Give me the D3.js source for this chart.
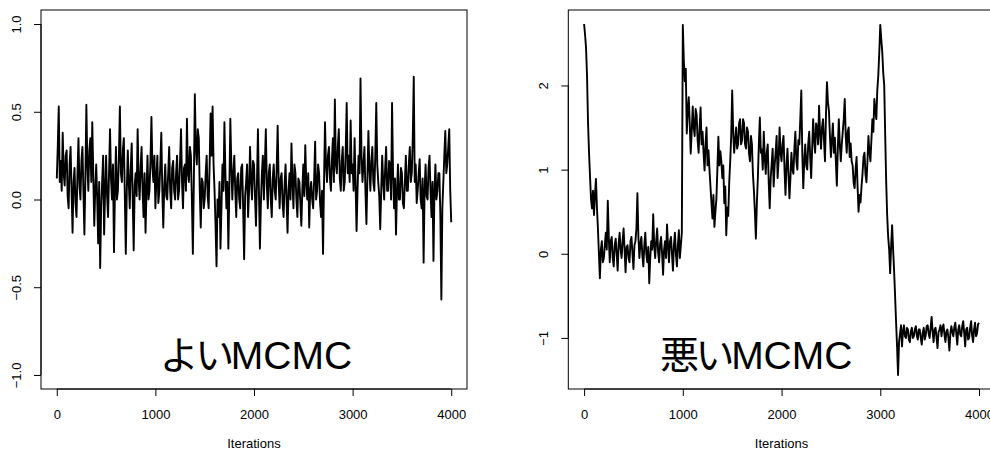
<!DOCTYPE html>
<html><head><meta charset="utf-8">
<script src="https://cdn.jsdelivr.net/npm/d3@7"></script>
<style>html,body{margin:0;padding:0;background:#fff}svg{display:block}</style>
</head><body>
<svg id="chart" width="990" height="452"></svg>
<script>
// Trace values sampled every 10 iterations (0, 10, ..., 4000)
const goodTrace = [
 0.12,0.30, 0.53,0.10, 0.22,0.05, 0.38,0.15, 0.08,0.25, 0.28,0.02, -0.05,0.20, 0.30,0.05, -0.19,0.10, 0.18,-0.02,
-0.10,0.15, 0.35,0.08, 0.00,0.22, 0.30,0.05, -0.20,0.12, 0.54,0.20, 0.05,0.28, 0.35,0.10, 0.44,0.15, -0.15,0.05,
 0.20,0.00, -0.25,0.10, -0.39,-0.05, 0.10,0.25, -0.20,0.05, 0.25,0.02, -0.10,0.15, 0.40,0.12, 0.00,0.20, -0.30,0.05,
 0.30,0.00, 0.05,0.25, 0.53,0.15, 0.10,0.28, 0.35,0.02, -0.31,0.05, 0.28,0.10, -0.05,0.18, 0.32,0.00, -0.29,0.08,
 0.15,0.02, 0.40,0.12, 0.00,0.18, 0.30,0.05, -0.10,0.15, -0.19,0.05, 0.25,0.00, 0.05,0.22, 0.47,0.18, 0.10,0.25,
-0.05,0.12, 0.25,-0.02, 0.05,0.20, 0.38,0.05, -0.16,0.08, 0.20,0.02, 0.00,0.15, 0.30,0.05, -0.05,0.18, 0.22,0.05,
 0.00,0.15, 0.25,0.00, 0.05,0.22, 0.40,0.10, -0.05,0.18, 0.20,0.05, 0.46,0.15, 0.10,0.30, 0.25,0.00, -0.31,0.10,
 0.60,0.30, 0.20,0.40, 0.35,0.05, -0.16,0.12, 0.10,-0.05, 0.00,0.15, 0.25,0.02, -0.05,0.20, 0.49,0.25, 0.53,0.20,
 0.05,-0.15, -0.38,0.00, -0.10,0.10, -0.28,-0.05, 0.20,0.05, 0.44,0.15, -0.05,0.10, -0.28,0.05, 0.46,0.20, 0.00,0.15,
 0.25,0.05, -0.10,0.12, 0.15,0.00, -0.05,0.18, 0.20,-0.05, -0.34,0.02, 0.10,0.20, -0.10,0.05, 0.30,0.10, 0.00,0.22,
 0.20,0.02, -0.15,0.10, 0.40,0.05, -0.28,-0.02, 0.15,0.25, 0.00,0.20, 0.40,0.08, -0.05,0.15, 0.20,0.00, -0.10,0.12,
 0.20,0.05, 0.00,0.18, 0.42,0.10, -0.05,0.12, 0.15,-0.02, -0.10,0.08, 0.20,0.00, -0.19,0.05, 0.15,0.00, 0.32,0.10,
-0.05,0.20, 0.15,0.00, -0.10,0.12, 0.10,-0.02, -0.15,0.05, 0.20,0.02, 0.31,0.10, 0.00,0.15, -0.16,0.05, 0.10,0.00,
-0.05,0.12, 0.33,0.00, 0.05,0.20, 0.15,-0.02, -0.10,0.05, -0.31,0.10, 0.44,0.20, 0.10,0.25, 0.30,0.12, 0.05,0.22,
 0.35,0.10, 0.57,0.20, 0.15,0.30, 0.40,0.12, 0.05,0.22, 0.30,0.05, 0.10,0.28, 0.55,0.15, 0.25,0.10, 0.45,0.15,
 0.20,0.05, 0.35,0.10, -0.18,0.05, 0.25,0.15, 0.69,0.25, 0.10,0.20, 0.30,0.05, -0.14,0.12, 0.39,0.18, 0.05,0.22,
 0.30,0.10, 0.05,0.25, 0.55,0.20, 0.10,0.02, -0.17,0.05, 0.25,0.10, 0.00,0.18, 0.30,0.05, 0.05,0.22, 0.20,0.00,
 0.55,0.15, -0.05,0.12, -0.20,0.05, 0.20,0.00, 0.00,0.18, 0.15,-0.02, -0.05,0.10, 0.25,0.05, 0.05,0.20, 0.30,0.10,
 0.15,0.35, 0.70,0.10, 0.20,-0.02, 0.05,0.15, 0.23,0.00, -0.05,0.12, -0.36,0.05, 0.20,0.02, 0.00,0.18, 0.25,0.05,
-0.10,0.10, -0.35,0.05, 0.20,0.00, 0.05,0.15, 0.15,-0.10, -0.57,-0.05, 0.10,0.25, 0.39,0.15, 0.20,0.30, 0.40,0.05,
-0.13
];
const badTrace = [
 2.73,2.60, 2.44,2.10, 1.55,1.20, 0.92,0.65, 0.54,0.75, 0.46,0.70, 0.89,0.55, 0.30,0.00, -0.29,0.05, 0.15,-0.10,
-0.05,0.10, 0.25,0.05, 0.63,0.20, -0.10,0.15, 0.20,-0.05, -0.15,0.10, 0.18,0.00, -0.20,0.12, 0.25,0.05, -0.05,0.15,
 0.30,0.05, -0.22,0.08, 0.10,-0.05, -0.10,0.15, 0.20,0.00, -0.18,0.10, 0.15,0.30, 0.72,0.20, -0.05,0.12, 0.20,-0.02,
-0.15,0.10, 0.25,0.00, -0.10,0.08, -0.35,-0.05, 0.15,0.05, 0.47,0.10, -0.05,0.15, 0.30,0.02, -0.10,0.12, 0.20,0.00,
-0.25,0.05, 0.15,-0.05, 0.35,0.10, -0.10,0.15, 0.20,0.00, -0.20,0.10, 0.25,0.00, -0.15,0.10, 0.28,-0.05, 0.10,0.25,
 2.72,2.30, 2.05,2.20, 1.43,1.70, 1.86,1.55, 1.19,1.45, 1.75,1.50, 1.40,1.72, 1.65,1.35, 1.20,1.50, 1.74,1.30,
 1.45,1.20, 0.99,1.30, 1.50,1.05, 1.23,1.00, 0.80,0.60, 0.42,0.70, 0.32,0.50, 0.65,1.00, 1.39,1.05, 1.22,1.10,
 0.90,1.05, 0.60,0.80, 0.22,0.55, 0.45,0.85, 1.10,1.40, 1.94,1.45, 1.20,1.35, 1.50,1.25, 1.30,1.55, 1.60,1.30,
 1.35,1.60, 1.55,1.30, 1.25,1.50, 1.45,1.20, 1.10,1.40, 1.30,0.95, 0.75,0.50, 0.18,0.60, 0.90,1.30, 1.62,1.20,
 1.24,1.00, 1.45,1.15, 0.95,1.20, 1.30,0.85, 0.54,0.90, 1.07,1.25, 0.80,1.05, 1.20,1.40, 0.90,1.10, 1.50,1.20,
 1.10,1.30, 1.40,1.00, 0.70,1.05, 1.25,0.95, 0.66,0.90, 1.20,1.00, 0.95,1.25, 1.45,1.10, 1.00,1.35, 1.30,1.60,
 1.94,1.20, 0.78,1.10, 1.30,1.05, 1.00,1.30, 1.45,1.15, 0.90,1.25, 1.60,1.35, 1.20,1.55, 1.50,1.30, 1.76,1.45,
 1.25,1.50, 1.60,1.35, 1.10,1.65, 2.04,1.80, 1.70,1.40, 1.15,1.35, 1.55,1.20, 1.38,1.10, 0.81,1.25, 1.60,1.30,
 1.10,1.30, 1.45,1.60, 1.84,1.40, 1.20,1.45, 1.50,1.15, 1.31,1.10, 1.05,0.85, 0.78,1.00, 1.15,0.80, 0.50,0.70,
 0.61,0.80, 0.95,1.15, 1.20,0.95, 0.85,1.10, 1.40,1.20, 1.10,1.35, 1.60,1.45, 1.84,1.70, 1.60,1.95, 2.12,2.40,
 2.72,2.55, 2.40,2.15, 2.00,1.40, 0.85,0.45, 0.20,0.05, -0.23,0.10, 0.34,0.05, -0.20,-0.50, -0.81,-1.10, -1.44,-1.05,
-0.95,-0.85, -1.10,-0.92, -0.85,-0.98, -1.00,-0.88, -0.90,-1.02, -1.05,-0.92, -0.88,-1.00, -0.98,-0.90, -0.86,-0.97, -1.02,-0.90,
-0.90,-1.00, -1.08,-0.94, -0.88,-1.02, -0.97,-0.86, -0.85,-0.95, -1.00,-0.88, -0.75,-0.92, -1.05,-0.90, -0.88,-1.00, -1.12,-0.93,
-0.90,-0.85, -0.98,-0.88, -0.84,-0.96, -1.05,-0.92, -0.90,-1.00, -1.15,-0.95, -0.86,-0.93, -0.98,-0.87, -0.82,-0.95, -1.08,-0.90,
-0.85,-0.96, -0.98,-0.86, -0.80,-0.94, -1.10,-0.90, -0.88,-1.02, -1.00,-0.88, -0.80,-0.97, -1.05,-0.90, -0.82,-0.98, -0.95,-0.84,
-0.82
];
const thinning = 10;
const xTicks = [0, 1000, 2000, 3000, 4000];
const xLimits = [0, 4000];
const goodYTicks = [-1.0, -0.5, 0.0, 0.5, 1.0];
const goodYLimits = [-1, 1];
const badYTicks = [-1, 0, 1, 2];
const panelLabels = ["よいMCMC", "悪いMCMC"];
const panelLabelStart = [1045, 770];
const xTitle = "Iterations";

const svg = d3.select("#chart");
const plotTop = 10, plotBottom = 389;
const fontAxis = "'Liberation Sans', Arial, Helvetica, sans-serif";

function pad(lim) { const r = lim[1] - lim[0]; return [lim[0] - 0.04 * r, lim[1] + 0.04 * r]; }

function panel(left, right, values, yLim, yTicks, yFmt, label, labelStart) {
  const g = svg.append("g");
  const x = d3.scaleLinear().domain(pad(xLimits)).range([left, right]);
  const y = d3.scaleLinear().domain(pad(yLim)).range([plotBottom, plotTop]);

  const line = d3.line().x((d, i) => x(i * thinning)).y(d => y(d));
  g.append("path").datum(values).attr("d", line)
    .attr("fill", "none").attr("stroke", "#000").attr("stroke-width", 1.9)
    .attr("stroke-linejoin", "round");

  g.append("rect").attr("x", left).attr("y", plotTop)
    .attr("width", right - left).attr("height", plotBottom - plotTop)
    .attr("fill", "none").attr("stroke", "#000").attr("stroke-width", 1);

  // x axis
  const xa = g.append("g").attr("transform", `translate(0,${plotBottom})`)
    .call(d3.axisBottom(x).tickValues(xTicks).tickSizeOuter(0).tickSize(7).tickPadding(14).tickFormat(d3.format("d")));
  xa.select(".domain").attr("d", `M${x(xTicks[0])},0H${x(xTicks[xTicks.length - 1])}`);
  xa.selectAll("text").attr("font-family", fontAxis).attr("font-size", 13).attr("fill", "#000");

  // y axis
  const ya = g.append("g").attr("transform", `translate(${left},0)`)
    .call(d3.axisLeft(y).tickValues(yTicks).tickSizeOuter(0).tickSize(7).tickFormat(yFmt));
  ya.select(".domain").attr("d", `M0,${y(yTicks[0])}V${y(yTicks[yTicks.length - 1])}`);
  ya.selectAll("text").attr("font-family", fontAxis).attr("font-size", 13).attr("fill", "#000")
    .attr("text-anchor", "middle").attr("dy", "0.32em").attr("x", 0).attr("y", 0)
    .attr("transform", "translate(-24,0) rotate(-90)");

  g.append("text").attr("x", x(2000)).attr("y", 448)
    .attr("text-anchor", "middle").attr("font-family", fontAxis).attr("font-size", 13)
    .text(xTitle);

  const parts = label.match(/^([^A-Za-z]*)(.*)$/);
  const t = g.append("text").attr("x", x(labelStart)).attr("y", plotBottom - 20)
    .attr("font-family", "'Liberation Sans', Arial, 'Noto Sans CJK JP', sans-serif")
    .attr("font-size", 39).attr("fill", "#000");
  t.append("tspan").attr("letter-spacing", -3.5).text(parts[1]);
  t.append("tspan").text(parts[2]);
}

const badLim = d3.extent(badTrace);
panel(41, 467, goodTrace, goodYLimits, goodYTicks, d3.format(".1f"), panelLabels[0], panelLabelStart[0]);
panel(568.3, 994.8, badTrace, badLim, badYTicks, d3.format("d"), panelLabels[1], panelLabelStart[1]);
</script>
</body></html>
